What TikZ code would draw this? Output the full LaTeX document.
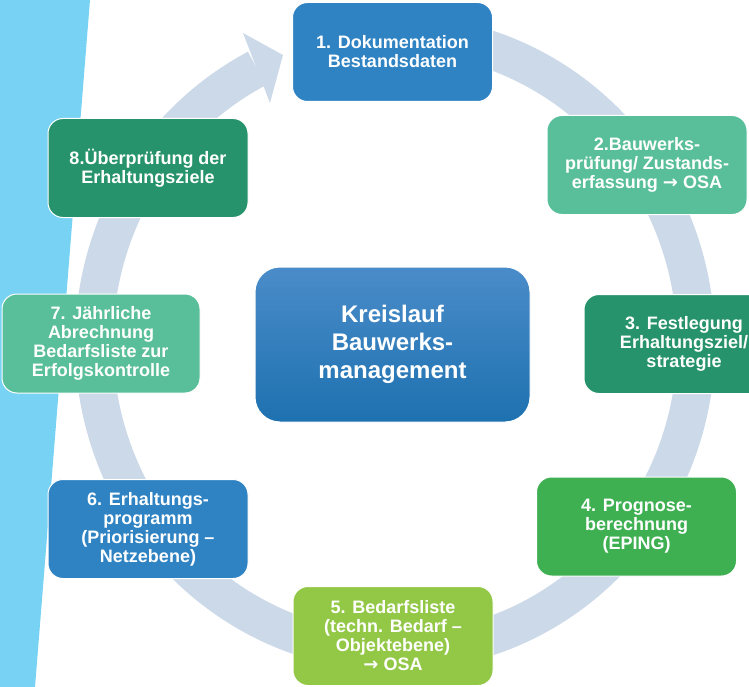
\documentclass[tikz,border=0pt]{standalone}
\usepackage{fontspec}
\setmainfont{Liberation Sans}
\newfontfamily\arrowfont{DejaVu Sans}
\newcommand{\toarrow}{{\arrowfont\bfseries →}}
\definecolor{skyband}{HTML}{77D2F3}
\definecolor{ringcol}{HTML}{CCD9E9}
\definecolor{blueA}{HTML}{2F83C3}
\definecolor{mint}{HTML}{59BF9B}
\definecolor{deepgreen}{HTML}{27936C}
\definecolor{leaf}{HTML}{3EB052}
\definecolor{lime}{HTML}{93C847}
\definecolor{hubtop}{HTML}{4A8CC9}
\definecolor{hubbot}{HTML}{1E71B0}
\begin{document}
\begin{tikzpicture}[x=1pt,y=-1pt,
  stepbox/.style={rectangle, rounded corners=15pt, draw=white, line width=1pt,
    minimum width=200pt, minimum height=99pt, inner sep=0pt, align=center,
    text=white, font=\bfseries\fontsize{18}{19}\selectfont},
  hub/.style={rectangle, rounded corners=25pt, draw=white, line width=1pt,
    minimum width=275pt, minimum height=155pt, inner sep=0pt, align=center,
    top color=hubtop, bottom color=hubbot,
    text=white, font=\bfseries\fontsize{24}{28}\selectfont}]
\useasboundingbox (0,0) rectangle (749,687);

% light blue band on the left
\fill[skyband] (0,0) -- (90,0) -- (35,687) -- (0,687) -- cycle;

% circular arrow running clockwise
\coordinate (mid) at (395,343);
\draw[ringcol, line width=38pt] (mid) ++(-100:301 and 309)
  arc[start angle=-100, end angle=242.7, x radius=301, y radius=309];
\fill[ringcol] (243,33) -- (283,55) -- (270,103) -- cycle;

% centre
\node[hub] (hubnode) at (392.5,344.5) {Kreislauf\\Bauwerks-\\management};

% the eight steps
\node[stepbox, fill=blueA]     (s1) at (392.5,52)  {1. Dokumentation\\Bestandsdaten};
\node[stepbox, fill=mint]      (s2) at (647,165)   {2.Bauwerks-\\prüfung/ Zustands-\\erfassung \toarrow{} OSA};
\node[stepbox, fill=deepgreen] (s3) at (684,344)   {3. Festlegung\\Erhaltungsziel/\\strategie};
\node[stepbox, fill=leaf]      (s4) at (636.5,526.5) {4. Prognose-\\berechnung\\(EPING)};
\node[stepbox, fill=lime]      (s5) at (393,636)   {5. Bedarfsliste\\(techn. Bedarf –\\Objektebene)\\\toarrow{} OSA};
\node[stepbox, fill=blueA]     (s6) at (148,529)   {6. Erhaltungs-\\programm\\(Priorisierung –\\Netzebene)};
\node[stepbox, fill=mint, minimum width=198pt] (s7) at (101,343.5) {7. Jährliche\\Abrechnung\\Bedarfsliste zur\\Erfolgskontrolle};
\node[stepbox, fill=deepgreen] (s8) at (148,168)   {8.Überprüfung der\\Erhaltungsziele};
\end{tikzpicture}
\end{document}
